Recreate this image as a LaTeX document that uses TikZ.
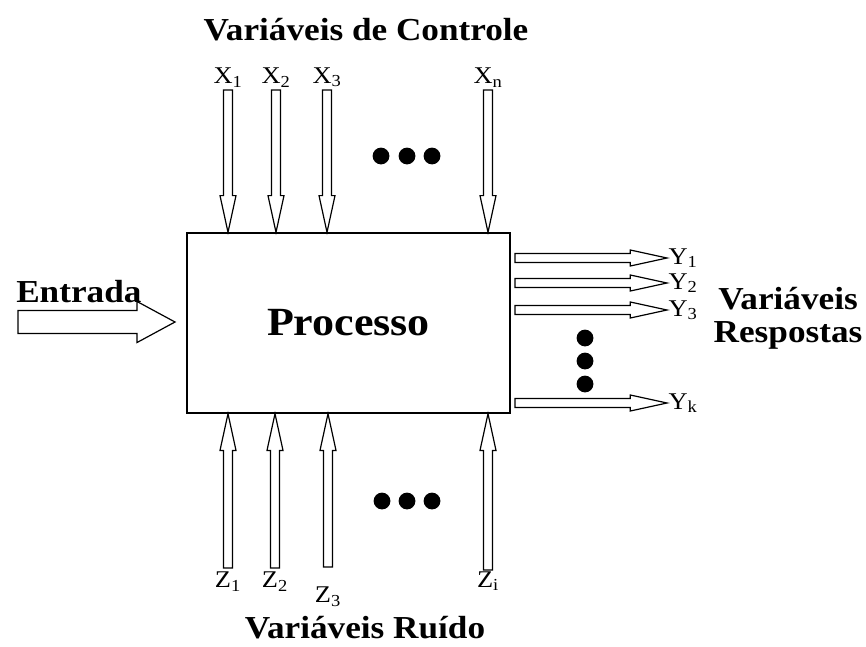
\documentclass[tikz,border=0pt]{standalone}
\usepackage{fontspec}
\setmainfont{Liberation Serif}[FakeStretch=1.1]
\usetikzlibrary{calc,positioning}

\begin{document}
\begin{tikzpicture}[
    x=0.75pt, y=-0.75pt,
    blockarrow/.style n args={3}{to path={
        ($(\tikztotarget)!#3!(\tikztostart)$) coordinate (ab)
        ($(\tikztostart)!#1!90:(\tikztotarget)$)
        -- ($(ab)!#1!90:(\tikztotarget)$) -- ($(ab)!#2!90:(\tikztotarget)$)
        -- (\tikztotarget)
        -- ($(ab)!#2!-90:(\tikztotarget)$) -- ($(ab)!#1!-90:(\tikztotarget)$)
        -- ($(\tikztostart)!#1!-90:(\tikztotarget)$) -- cycle}},
    smallarrow/.style={line width=0.9pt, line join=miter, blockarrow={3.4pt}{6pt}{27.5pt}},
    bigarrow/.style={line width=0.9pt, line join=miter, blockarrow={8.6pt}{15.4pt}{28.5pt}},
    procbox/.style={draw, line width=1.1pt, minimum width=242.25pt, minimum height=135pt, font=\fontsize{30}{34}\selectfont\bfseries},
    grouplabel/.style={inner sep=0pt, font=\fontsize{24}{28}\selectfont\bfseries},
    sublabel/.style={inner sep=1pt, font=\fontsize{18}{21}\selectfont},
    dot/.style={radius=6.3pt}
]
    \useasboundingbox (0,0) rectangle (866,646);

    % --- PROCESS ---
    \node[procbox] (box) at (348.5,323) {Processo};

    % --- INPUT ---
    \node[grouplabel, anchor=base west] (entrada) at (16,302) {Entrada};
    \coordinate (intail) at (18,322);
    \coordinate (intip) at (175,322);
    \draw[bigarrow] (intail) to (intip);

    % --- CONTROL VARIABLES ---
    \node[grouplabel, anchor=base] (ctrl) at (366,40) {Variáveis de Controle};
    \coordinate (xt1) at (228,90);
    \coordinate (xt2) at (276,90);
    \coordinate (xt3) at (327,90);
    \coordinate (xtn) at (488,90);
    \node[sublabel, above=1pt of xt1] (x1) {X\textsubscript{1}};
    \node[sublabel, above=1pt of xt2] (x2) {X\textsubscript{2}};
    \node[sublabel, above=1pt of xt3] (x3) {X\textsubscript{3}};
    \node[sublabel, above=1pt of xtn] (xn) {X\textsubscript{n}};

    \draw[smallarrow] (xt1) to (xt1 |- box.north);
    \draw[smallarrow] (xt2) to (xt2 |- box.north);
    \draw[smallarrow] (xt3) to (xt3 |- box.north);
    \draw[smallarrow] (xtn) to (xtn |- box.north);

    \fill (381,156) circle[dot] (407,156) circle[dot] (432,156) circle[dot];

    % --- NOISE VARIABLES ---
    \node[grouplabel, anchor=base] (noise) at (365,638) {Variáveis Ruído};
    \coordinate (zt1) at (228,568);
    \coordinate (zt2) at (275,568);
    \coordinate (zt3) at (328,567);
    \coordinate (zti) at (488,570);
    \node[sublabel, below=2pt of zt1] (z1) {Z\textsubscript{1}};
    \node[sublabel, below=2pt of zt2] (z2) {Z\textsubscript{2}};
    \node[sublabel, below=14pt of zt3] (z3) {Z\textsubscript{3}};
    \node[sublabel, below=0pt of zti] (zi) {Z\textsubscript{i}};

    \draw[smallarrow] (zt1) to (zt1 |- box.south);
    \draw[smallarrow] (zt2) to (zt2 |- box.south);
    \draw[smallarrow] (zt3) to (zt3 |- box.south);
    \draw[smallarrow] (zti) to (zti |- box.south);

    \fill (382,501) circle[dot] (407,501) circle[dot] (432,501) circle[dot];

    % --- RESPONSE VARIABLES ---
    \node[sublabel, anchor=west] (y1) at (667,258) {Y\textsubscript{1}};
    \node[sublabel, anchor=west] (y2) at (667,283) {Y\textsubscript{2}};
    \node[sublabel, anchor=west] (y3) at (667,310) {Y\textsubscript{3}};
    \node[sublabel, anchor=west] (yk) at (667,403) {Y\textsubscript{k}};
    \coordinate (yt1) at (515,258);
    \coordinate (yt2) at (515,283);
    \coordinate (yt3) at (515,310);
    \coordinate (ytk) at (515,403);

    \draw[smallarrow] (yt1) to (y1.west);
    \draw[smallarrow] (yt2) to (y2.west);
    \draw[smallarrow] (yt3) to (y3.west);
    \draw[smallarrow] (ytk) to (yk.west);

    \fill (585,338) circle[dot] (585,361) circle[dot] (585,384) circle[dot];

    \node[grouplabel, anchor=base] (resp1) at (788,309) {Variáveis};
    \node[grouplabel, anchor=base] (resp2) at (788,342) {Respostas};
\end{tikzpicture}
\end{document}
